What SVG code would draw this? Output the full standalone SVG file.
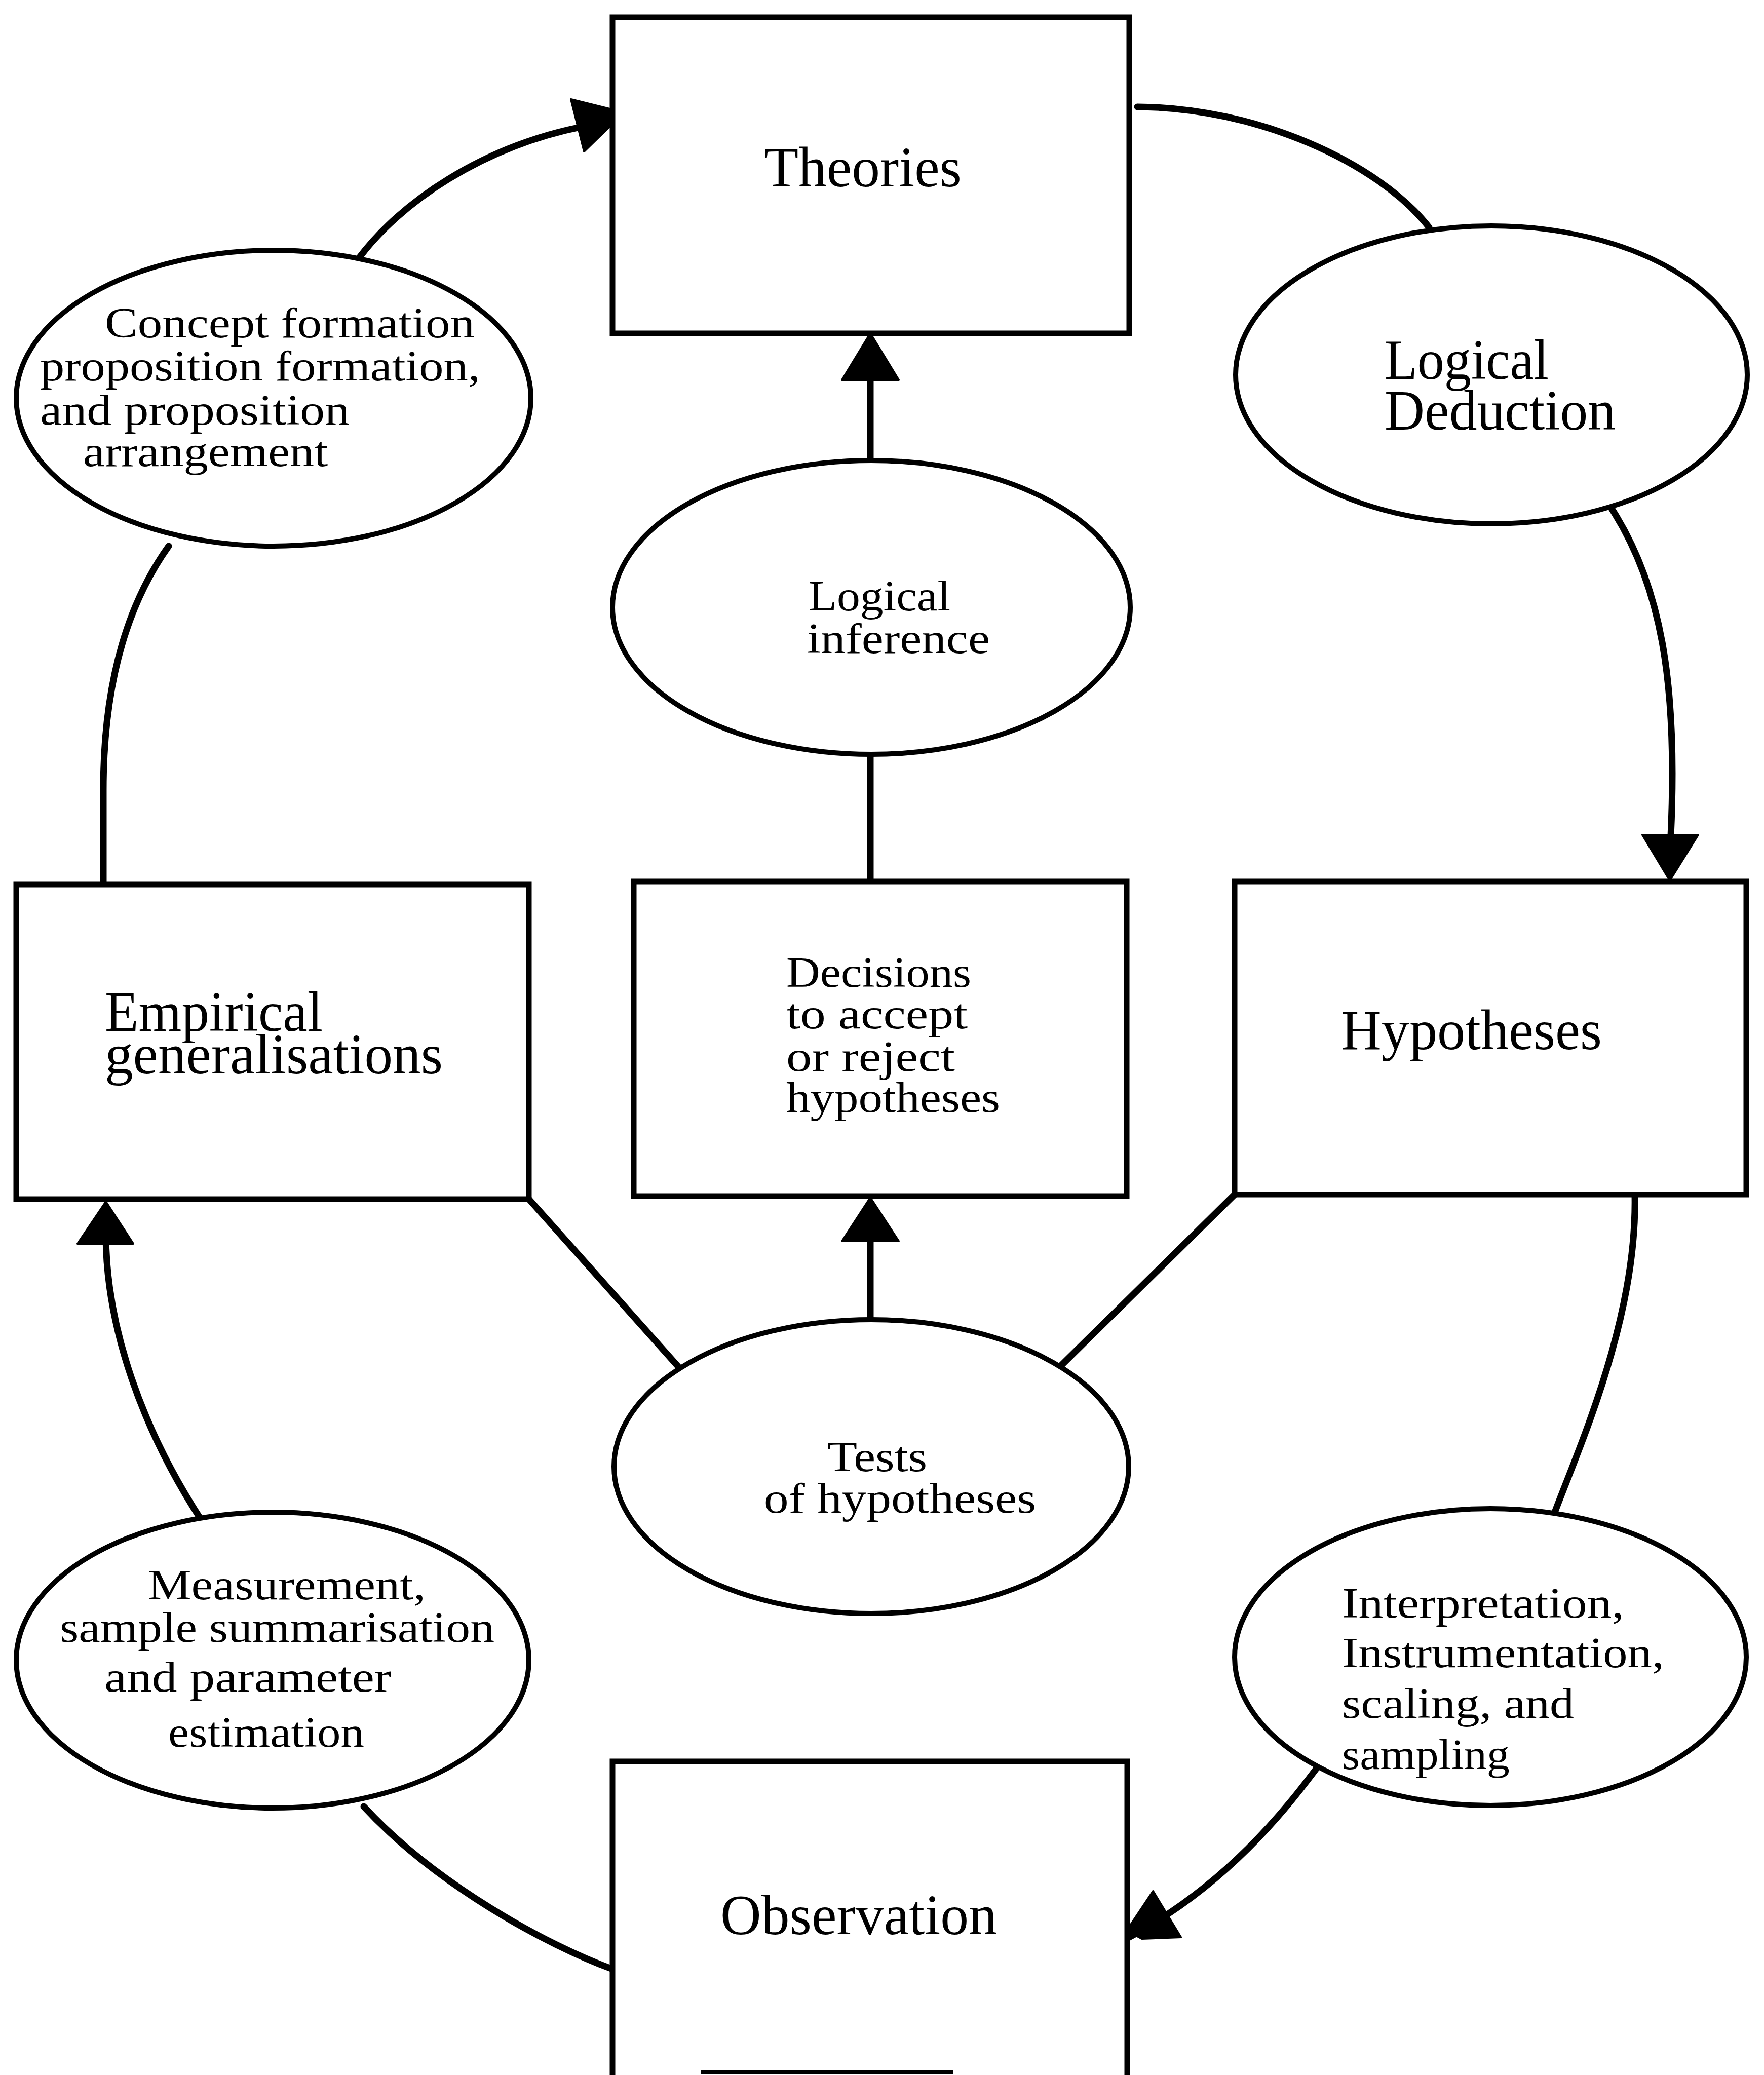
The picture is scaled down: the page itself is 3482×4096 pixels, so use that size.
<svg xmlns="http://www.w3.org/2000/svg" width="3482" height="4096" viewBox="0 0 3482 4096">
<style>
  .box { fill: #ffffff; stroke: #000000; stroke-width: 11; }
  .oval { fill: #ffffff; stroke: #000000; stroke-width: 10; }
  .link { fill: none; stroke: #000000; stroke-width: 13; stroke-linecap: round; }
  .head { fill: #000000; stroke: #000000; stroke-width: 4; stroke-linejoin: round; }
  .big { font-family: "Liberation Serif", "Times New Roman", serif; font-size: 112px; fill: #000000; }
  .small { font-family: "Liberation Serif", "Times New Roman", serif; font-size: 84px; fill: #000000; }
</style>
<rect width="3482" height="4096" fill="#ffffff"/>

<g id="connectors">
  <!-- Concept formation -> Theories -->
  <path class="link" d="M708,510 C790,400 950,290 1150,250"/>
  <polygon class="head" points="1127,196 1232,222 1153,299"/>
  <!-- Theories -> Logical Deduction -->
  <path class="link" d="M2245,211 C2480,212 2720,320 2821,449"/>
  <!-- Logical Deduction -> Hypotheses -->
  <path class="link" d="M3174,993 C3280,1150 3312,1350 3298,1650"/>
  <polygon class="head" points="3296,1738 3242,1648 3352,1648"/>
  <!-- Hypotheses -> Interpretation -->
  <path class="link" d="M3227,2358 C3232,2600 3120,2850 3069,2985"/>
  <!-- Interpretation -> Observation -->
  <path class="link" d="M2609,3477 C2540,3570 2420,3725 2216,3831"/>
  <polygon class="head" points="2276,3733 2331,3824 2254,3827 2224,3811"/>
  <!-- Observation -> Measurement -->
  <path class="link" d="M1209,3887 C1080,3840 860,3720 718,3566"/>
  <!-- Measurement -> Empirical generalisations -->
  <path class="link" d="M397,3000 C280,2820 210,2620 209,2440"/>
  <polygon class="head" points="209,2372 153,2455 263,2455"/>
  <!-- Empirical generalisations -> Concept formation -->
  <path class="link" d="M204,1745 L204,1560 C204,1330 260,1180 333,1078"/>
  <!-- Logical inference -> Theories -->
  <path class="link" d="M1718,909 L1718,720"/>
  <polygon class="head" points="1718,658 1662,750 1774,750"/>
  <!-- Logical inference - Decisions -->
  <path class="link" d="M1718,1489 L1718,1740"/>
  <!-- Tests -> Decisions -->
  <path class="link" d="M1718,2605 L1718,2420"/>
  <polygon class="head" points="1718,2364 1662,2450 1774,2450"/>
  <!-- Empirical generalisations - Tests -->
  <path class="link" d="M1044,2367 L1340,2699"/>
  <!-- Hypotheses - Tests -->
  <path class="link" d="M2437,2358 L2093,2697"/>
</g>

<g id="theories">
  <rect class="box" x="1209" y="34" width="1020" height="624"/>
  <text class="big" x="1508" y="368" textLength="390" lengthAdjust="spacingAndGlyphs">Theories</text>
</g>

<g id="logical-deduction">
  <ellipse class="oval" cx="2944" cy="740" rx="505" ry="294"/>
  <text class="big" x="2733" y="748" textLength="324" lengthAdjust="spacingAndGlyphs">Logical</text>
  <text class="big" x="2733" y="848" textLength="456" lengthAdjust="spacingAndGlyphs">Deduction</text>
</g>

<g id="concept-formation">
  <ellipse class="oval" cx="540" cy="786" rx="508" ry="292"/>
  <text class="small" x="207" y="666" textLength="730" lengthAdjust="spacingAndGlyphs">Concept formation</text>
  <text class="small" x="79" y="751" textLength="869" lengthAdjust="spacingAndGlyphs">proposition formation,</text>
  <text class="small" x="79" y="838" textLength="611" lengthAdjust="spacingAndGlyphs">and proposition</text>
  <text class="small" x="164" y="920" textLength="483" lengthAdjust="spacingAndGlyphs">arrangement</text>
</g>

<g id="logical-inference">
  <ellipse class="oval" cx="1720" cy="1199" rx="511" ry="290"/>
  <text class="small" x="1596" y="1205" textLength="280" lengthAdjust="spacingAndGlyphs">Logical</text>
  <text class="small" x="1593" y="1289" textLength="361" lengthAdjust="spacingAndGlyphs">inference</text>
</g>

<g id="empirical-generalisations">
  <rect class="box" x="32" y="1746" width="1012" height="621"/>
  <text class="big" x="207" y="2035" textLength="430" lengthAdjust="spacingAndGlyphs">Empirical</text>
  <text class="big" x="207" y="2119" textLength="667" lengthAdjust="spacingAndGlyphs">generalisations</text>
</g>

<g id="decisions">
  <rect class="box" x="1251" y="1740" width="973" height="621"/>
  <text class="small" x="1552" y="1948" textLength="365" lengthAdjust="spacingAndGlyphs">Decisions</text>
  <text class="small" x="1552" y="2030" textLength="358" lengthAdjust="spacingAndGlyphs">to accept</text>
  <text class="small" x="1552" y="2114" textLength="333" lengthAdjust="spacingAndGlyphs">or reject</text>
  <text class="small" x="1552" y="2195" textLength="422" lengthAdjust="spacingAndGlyphs">hypotheses</text>
</g>

<g id="hypotheses">
  <rect class="box" x="2437" y="1740" width="1010" height="618"/>
  <text class="big" x="2647" y="2071" textLength="515" lengthAdjust="spacingAndGlyphs">Hypotheses</text>
</g>

<g id="tests">
  <ellipse class="oval" cx="1720" cy="2895" rx="508" ry="290"/>
  <text class="small" x="1633" y="2904" textLength="197" lengthAdjust="spacingAndGlyphs">Tests</text>
  <text class="small" x="1508" y="2986" textLength="537" lengthAdjust="spacingAndGlyphs">of hypotheses</text>
</g>

<g id="measurement">
  <ellipse class="oval" cx="538" cy="3277" rx="506" ry="292"/>
  <text class="small" x="292" y="3157" textLength="548" lengthAdjust="spacingAndGlyphs">Measurement,</text>
  <text class="small" x="118" y="3241" textLength="858" lengthAdjust="spacingAndGlyphs">sample summarisation</text>
  <text class="small" x="206" y="3339" textLength="566" lengthAdjust="spacingAndGlyphs">and parameter</text>
  <text class="small" x="332" y="3448" textLength="387" lengthAdjust="spacingAndGlyphs">estimation</text>
</g>

<g id="interpretation">
  <ellipse class="oval" cx="2942" cy="3271" rx="505" ry="293"/>
  <text class="small" x="2649" y="3193" textLength="557" lengthAdjust="spacingAndGlyphs">Interpretation,</text>
  <text class="small" x="2649" y="3291" textLength="636" lengthAdjust="spacingAndGlyphs">Instrumentation,</text>
  <text class="small" x="2649" y="3391" textLength="458" lengthAdjust="spacingAndGlyphs">scaling, and</text>
  <text class="small" x="2649" y="3492" textLength="331" lengthAdjust="spacingAndGlyphs">sampling</text>
</g>

<g id="observation">
  <rect class="box" x="1209" y="3477" width="1016" height="640"/>
  <text class="big" x="1422" y="3818" textLength="546" lengthAdjust="spacingAndGlyphs">Observation</text>
  <line x1="1384" y1="4090" x2="1881" y2="4090" stroke="#000000" stroke-width="8"/>
</g>
</svg>
